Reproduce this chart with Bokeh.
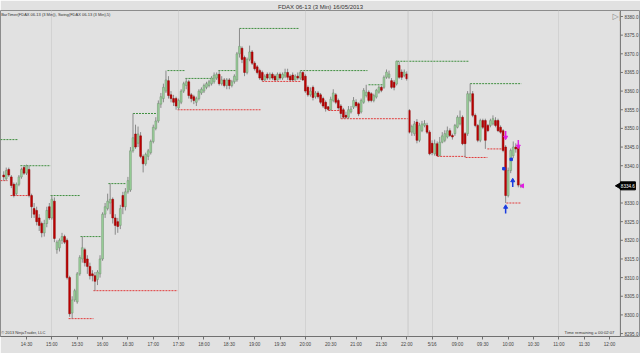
from bokeh.plotting import figure
from bokeh.models import Range1d, FixedTicker, Label, Span
from bokeh.embed import file_html
from bokeh.resources import INLINE

# ---- OHLC data (3-min bars, FDAX 06-13) ----
opens = [8337.5,8336.5,8339,8337,8335,8332.5,8335,8337,8339.5,8338,
         8339,8332,8328.5,8328,8326,8324.5,8322,8324.5,8329,8326,
         8330.5,8317.5,8318,8320,8321,8320,8310,8300.5,8304,8303.5,
         8311,8315,8317.5,8315,8313,8311,8310.5,8309.5,8311,8315,
         8327,8328.5,8330,8331,8326,8325,8324,8332,8329,8333,
         8333.5,8344,8348.5,8346,8348,8342.5,8340.5,8342.5,8343.5,8346.5,
         8350,8352,8356.5,8358,8360,8362.8,8359,8358,8358,8355.5,
         8357,8360,8361.5,8362.5,8359,8358.5,8357,8358,8359.5,8360,
         8361,8361.5,8362,8362.5,8363.5,8364.5,8362,8363,8361.5,8363,
         8361.5,8362.5,8363,8370,8371.5,8369,8365,8368.5,8370.5,8367.5,
         8366.5,8365.5,8365,8363,8364.5,8363.5,8364.5,8364,8363,8364.5,
         8363.5,8364,8365,8364,8364.3,8363,8364,8363.5,8365,8364,
         8361,8359,8361,8358.5,8359.5,8359,8358,8357,8355.8,8355,
         8357.5,8359,8357.5,8356,8355,8353.5,8353,8354.4,8355.7,8357,
         8356.6,8354.4,8357,8358.8,8359.7,8359.3,8357.5,8358.4,8359.7,8361,
         8361,8363.7,8363.7,8362.8,8362.4,8361.9,8366.9,8365.1,8364.2,8364.6,
         8354.8,8349,8348.6,8351.7,8346.8,8349.4,8350.8,8350.8,8349,8346,
         8343.2,8345.9,8342.7,8346.3,8346.8,8347.7,8349.4,8348.1,8348.6,8350.3,
         8351.2,8353,8348.6,8348.6,8357.5,8359.3,8353.5,8350.8,8346.8,8352.1,
         8352.1,8350.8,8350.8,8351.2,8352.1,8352.1,8350.3,8349.4,8345,8332,
         8338.7,8342.7,8345,8345,8334.5]
highs = [8338.5,8339.5,8339.5,8337.5,8335.5,8335.5,8337.5,8339.5,8340,8340.3,
         8340,8332.5,8330,8329,8327,8325,8325.5,8329,8330,8332,
         8331.5,8320,8320.5,8322,8321.5,8320.5,8310.5,8305,8307,8311.5,
         8316,8321,8318,8316,8314,8312,8311.5,8312,8316,8327.5,
         8330,8332.5,8335.2,8331.5,8327,8326,8329.5,8333,8334,8337,
         8345,8354,8351,8350.5,8349,8343,8343.5,8344.5,8347,8351,
         8353,8357.5,8359.5,8362,8365.5,8364,8360,8359,8358.5,8358,
         8360.5,8362.5,8363.4,8363,8359.5,8359,8358.5,8360.5,8361,8362,
         8362.5,8363,8364,8365,8365,8365.5,8364,8363.5,8363.5,8363.5,
         8363,8364.5,8370.5,8376.8,8372,8369.5,8369,8372.2,8371,8368,
         8367,8366,8365.5,8364.5,8365,8365,8365,8364.5,8365,8365,
         8365,8366,8366,8364.5,8365,8364.5,8365,8365.5,8365.3,8364.5,
         8361.5,8361,8361.5,8360,8360,8359.5,8358.5,8357.5,8356,8358.5,
         8360.5,8359.5,8358,8356.5,8355.5,8354.5,8356,8356,8358.4,8357.8,
         8357,8358,8360.8,8361.7,8360.2,8359.7,8359.3,8360.6,8361.5,8361.5,
         8364.2,8365.8,8365.5,8363.5,8363,8368.2,8367.8,8365.8,8365.8,8365.3,
         8355.2,8351,8352,8352.5,8351.5,8352,8352.2,8351.5,8349.5,8346.8,
         8347,8346.5,8347.7,8349,8349.5,8350.5,8350,8348.6,8351.2,8353.5,
         8354.8,8353.5,8349,8360,8362,8360,8354,8351.2,8352.6,8352.6,
         8352.6,8351.2,8352.6,8353.5,8353,8352.6,8350.8,8349.8,8345.5,8339.5,
         8344.6,8346.5,8346,8345.5,8335.2]
lows = [8336,8336,8337,8334,8331.5,8332,8334.5,8336.5,8337.5,8337.5,
        8331.5,8326,8326,8324,8322.5,8320.8,8321,8323.5,8325.5,8325.5,
        8319.5,8316.4,8317,8319,8319,8309.5,8299.5,8299,8303.5,8303,
        8310.5,8314,8313,8311,8309.5,8309,8306.5,8308,8310,8314.5,
        8326,8328,8327,8324.5,8321.5,8322,8323,8327,8328,8332.5,
        8333,8343.5,8344.5,8345,8342,8338.2,8340,8341.5,8343,8346,
        8349.5,8351.5,8355.5,8357,8359.5,8358,8357,8356,8355,8355,
        8356.5,8359.5,8360.5,8358,8357,8356.5,8356,8357.5,8359,8359.5,
        8360.5,8361,8361.5,8362,8363,8361.5,8361.5,8361,8360.5,8360.5,
        8361,8362,8362.5,8369,8367.5,8364,8364.5,8368,8367,8365.5,
        8364.5,8363,8362.6,8362.7,8363,8363,8363,8362.7,8362.8,8363,
        8363,8363.5,8363,8362.7,8362.7,8362.8,8363,8363,8362.7,8359.5,
        8358.5,8358.5,8357.5,8358,8358,8356.5,8355.5,8354.5,8354.8,8354.8,
        8357,8356.5,8355,8352.6,8352.6,8352.6,8352.6,8354,8355.2,8355.6,
        8353.3,8354,8356.6,8358.3,8357,8357,8357,8358,8359.3,8359.7,
        8360.6,8363.3,8363.3,8360.6,8360.2,8361.5,8363.3,8363,8363.7,8362.8,
        8348.6,8348,8348,8346,8346.3,8349,8350.3,8348.5,8342.8,8342.8,
        8342.7,8342.5,8342.5,8346,8346.3,8347.3,8347.7,8347,8348,8350,
        8350.8,8345.5,8342.2,8348,8357,8353,8350.3,8346.3,8346.3,8349.8,
        8344.5,8349,8350.3,8350.8,8350.3,8349,8348.6,8343.6,8330,8331.5,
        8338,8342,8343.5,8334.2,8334]
closes = [8337,8338.7,8337.5,8334.7,8332,8335,8337,8339,8338,8340,
          8332,8329,8327,8325,8324,8322,8324.5,8328,8326,8331,
          8320.5,8319.5,8320,8321,8319.5,8310,8300.3,8304,8306.5,8311,
          8315.4,8318,8314,8313,8310.5,8310.5,8309,8311.5,8315,8327,
          8329,8330.5,8331,8326,8324,8323.7,8328.5,8329,8333,8336,
          8344,8347.5,8345,8348.5,8342.5,8340.5,8343,8344,8346.5,8350.3,
          8352,8356.7,8358.5,8361,8363,8358.8,8358,8357,8356,8357.5,
          8360,8362,8362.5,8358.8,8358,8357.5,8358,8360,8360.5,8361.5,
          8362,8362.5,8363.5,8364.3,8364.5,8362,8363,8361.5,8363,8361.5,
          8362.5,8364,8370,8372,8368.5,8365,8368.5,8370.5,8367.5,8366,
          8365,8363.5,8363,8364,8363.5,8364.5,8363.5,8363,8364.5,8363.5,
          8364.5,8365,8363.7,8363,8363,8364,8363.5,8365,8363,8360,
          8359,8360,8358.3,8359.5,8358.5,8357,8356,8355.3,8355.1,8357.8,
          8359.5,8357,8355.5,8354,8353,8353,8355,8355.2,8357.5,8356.1,
          8353.9,8357.5,8360.2,8359.7,8357.5,8357.5,8358.8,8360.2,8361,8360.2,
          8363.7,8365.1,8364.6,8361,8361,8368,8363.7,8363.7,8365.1,8363.3,
          8349,8350.5,8351.2,8346.8,8350.8,8351.2,8351.3,8349,8343.2,8343.5,
          8345.9,8342.7,8346.3,8348,8348.6,8349.4,8348.1,8347.7,8350.8,8353,
          8353,8345.9,8345.9,8359.3,8359.3,8353.5,8350.8,8346.8,8352.1,8350.3,
          8346.8,8349.4,8352.1,8352.6,8350.8,8349.4,8349,8344.1,8332,8338.7,
          8344.1,8345,8344.5,8334.8,8334.6]

# time axis labels (every 10 bars)
tick_bars = [9, 19, 29, 39, 49, 59, 69, 79, 89, 99, 109, 119, 129, 139, 149, 159,
             169, 179, 189, 199, 209, 219, 229, 239]
tick_labels = ["14:30", "15:00", "15:30", "16:00", "16:30", "17:00", "17:30", "18:00",
               "18:30", "19:00", "19:30", "20:00", "20:30", "21:00", "21:30", "22:00",
               "5/16", "09:00", "09:30", "10:00", "10:30", "11:00", "11:30", "12:00"]
grid_bars = [19, 69, 119, 169, 219]
# price scale labels (8335.0 is hidden behind the last-price marker)
price_ticks = [8295, 8300, 8305, 8310, 8315, 8320, 8325, 8330, 8340, 8345,
               8350, 8355, 8360, 8365, 8370, 8375, 8380]

# swing indicator lines: start bar, end bar, price
swing_high_start = [-1.3, 6.6, 18.5, 30.3, 41.3, 51, 64.6, 71.7, 84.7, 93, 117, 143.9, 155.3, 184]
swing_high_end = [5.8, 18.5, 30.3, 38.2, 48, 60.5, 71.7, 83.6, 91.4, 116.3, 143.5, 149.8, 183.4, 204.2]
swing_high_price = [8347, 8340, 8332, 8321, 8335.2, 8354, 8365.5, 8363.4, 8365.5, 8376.8, 8365.5, 8361.7, 8368, 8362]
swing_low_start = [-1.3, 2.7, 25.6, 35.4, 68.6, 102, 128, 133, 171, 182.2, 190.8, 198.3]
swing_low_end = [1.5, 9.8, 35.4, 68.6, 101.3, 117, 133.7, 159.7, 182.2, 190.8, 197.2, 204.2]
swing_low_price = [8336, 8332, 8299, 8306.5, 8355, 8362.6, 8354.8, 8352.6, 8342.5, 8342.2, 8344.5, 8330]

last_price = 8334.6

n = len(closes)
idx = list(range(n))
up = [c >= o for o, c in zip(opens, closes)]
body_top = [max(o, c) for o, c in zip(opens, closes)]
body_bot = [min(o, c) for o, c in zip(opens, closes)]
fills = ["#9ad29a" if u else "#c00000" for u in up]
outlines = ["#6e8f6e" if u else "#8a0000" for u in up]

# frame spans the full width; price scale drawn in its right-hand 20 px
X0, X1 = -1.262, 251.2          # bar-index range across 640 px
XAX = 243.27                    # bar-index position of the price-scale line
PX = (X1 - X0) / 640.0          # bar units per pixel
Y0, Y1 = 8294.21, 8381.61

BG = "#e1e1e1"
AXC = "#707070"
FONT = "Liberation Sans"
p = figure(width=640, height=353, output_backend="svg", toolbar_location=None,
           x_range=Range1d(X0, X1), y_range=Range1d(Y0, Y1),
           y_axis_location=None, min_border_left=0, min_border_right=0,
           min_border_top=10, min_border_bottom=17)
p.background_fill_color = BG
p.border_fill_color = BG
p.outline_line_color = "#8c8c8c"

p.title.text = "FDAX 06-13 (3 Min) 16/05/2013"
p.title.align = "center"
p.title.text_font = FONT
p.title.text_font_size = "6px"
p.title.text_font_style = "normal"
p.title.text_color = "#333333"
p.title.standoff = 2

# time axis (real axis, limited to the chart area)
xa = p.xaxis[0]
xa.ticker = FixedTicker(ticks=tick_bars)
xa.major_label_overrides = {b: t for b, t in zip(tick_bars, tick_labels)}
xa.bounds = (X0, XAX)
xa.major_label_text_font = FONT
xa.major_label_text_font_size = "4.6px"
xa.major_label_text_color = "#444444"
xa.axis_line_color = AXC
xa.major_tick_line_color = AXC
xa.major_tick_in = 0
xa.major_tick_out = 3
xa.minor_tick_line_color = None
xa.major_label_standoff = 2

p.xgrid.ticker = FixedTicker(ticks=grid_bars)
p.xgrid.grid_line_color = "#d2d2d2"
p.ygrid.grid_line_color = None

# price scale: line, ticks, labels
p.segment([XAX], [Y0], [XAX], [Y1], line_color=AXC, line_width=1)
p.segment([XAX] * len(price_ticks), price_ticks,
          [XAX + 2.5 * PX] * len(price_ticks), price_ticks, line_color=AXC, line_width=1)
p.text([XAX + 4 * PX] * len(price_ticks), price_ticks,
       text=["%.1f" % v for v in price_ticks], text_font_size="4.6px",
       text_color="#444444", text_baseline="middle", text_align="left",
       text_font={"value": FONT})

# session break
p.add_layout(Span(location=159.5, dimension="height", line_color="#c9c9c9", line_width=1))

# swing lines
p.segment(swing_high_start, swing_high_price, swing_high_end, swing_high_price,
          line_color="#3f8f3f", line_width=1, line_dash="2 1")
p.segment(swing_low_start, swing_low_price, swing_low_end, swing_low_price,
          line_color="#e23c3c", line_width=1, line_dash="2 1")

# candles
p.segment(idx, highs, idx, lows, line_color="#8a8a8a", line_width=1)
p.vbar(x=idx, width=0.72, top=body_top, bottom=body_bot,
       fill_color=fills, line_color=outlines, line_width=0.5)

# signal markers
p.scatter([198, 203], [8347.6, 8345.2], marker="inverted_triangle", size=4,
          fill_color="#e020e0", line_color="#e020e0")
p.segment([198, 203], [8349.3, 8346.9], [198, 203], [8347.6, 8345.2], line_color="#e020e0", line_width=1.5)
p.scatter([204.6], [8334.6], marker="triangle", size=4, angle=1.57,
          fill_color="#e020e0", line_color="#e020e0")
p.scatter([198, 200.8], [8328.9, 8336], marker="triangle", size=4,
          fill_color="#1a3ce0", line_color="#1a3ce0")
p.segment([198, 200.8], [8328.9, 8336], [198, 200.8], [8327.2, 8334.3], line_color="#1a3ce0", line_width=1.5)
p.scatter([197.3, 200.2], [8339.2, 8341.7], marker="square", size=2.5,
          fill_color="#1a3ce0", line_color="#1a3ce0")

# last-price marker on the price scale
p.rect([XAX + 7.5 * PX], [last_price], width=15, height=8, width_units="screen",
       height_units="screen", fill_color="#000000", line_color="#000000")
p.scatter([XAX - 1 * PX], [last_price], marker="triangle", angle=1.5708, size=7,
          fill_color="#000000", line_color="#000000")
p.text([XAX + 7.5 * PX], [last_price], text=["%.1f" % last_price], text_font_size="4.6px",
       text_color="#ffffff", text_baseline="middle", text_align="center",
       text_font={"value": FONT})

# texts
p.add_layout(Label(x=-1.0, y=8380.5, text="BarTimer(FDAX 06-13 (3 Min)), Swing(FDAX 06-13 (3 Min),5)",
                   text_font=FONT, text_font_size="4px", text_color="#333333",
                   text_baseline="middle"))
p.add_layout(Label(x=-1.0, y=8295.3, text="\u00a9 2013 NinjaTrader, LLC",
                   text_font=FONT, text_font_size="4px", text_color="#333333",
                   text_baseline="middle"))
p.add_layout(Label(x=240.9, y=8295.3, text="Time remaining = 00:02:07",
                   text_font=FONT, text_font_size="4.2px", text_color="#333333",
                   text_baseline="middle", text_align="right"))
p.add_layout(Label(x=240.2, y=8380, text="\u25b7|", text_font="DejaVu Sans",
                   text_font_size="8px", text_color="#8a8a8a", text_baseline="middle"))

open("out.html", "w").write(file_html(p, INLINE))
